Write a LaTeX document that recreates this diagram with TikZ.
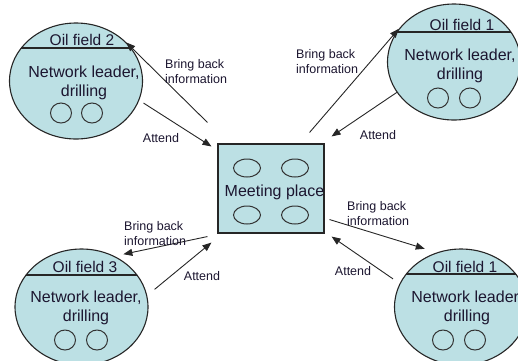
\documentclass[tikz,border=0pt]{standalone}
\usepackage{fontspec}
\setmainfont{Liberation Sans}
\usetikzlibrary{shapes.geometric,arrows.meta}
\definecolor{fieldblue}{RGB}{188,224,228}
\definecolor{ink}{RGB}{28,22,48}
\def\Lead{Network leader,\\drilling}

\begin{document}
\begin{tikzpicture}[x=1pt,y=-1pt,% one unit = one pixel, y runs downwards
		every node/.style={
			text=ink,
			inner sep=0pt
		},
		field/.style={ellipse,draw=black!85,line width=1.1pt,fill=fieldblue,
			minimum width=133pt,minimum height=116pt},
		title/.style={font=\fontsize{15.5}{18}\selectfont},
		body/.style={align=center,font=\fontsize{16}{19}\selectfont},
		seat/.style={ellipse,draw=black!80,line width=1pt,minimum width=21pt,minimum height=20pt},
		chair/.style={ellipse,draw=black!80,line width=1pt,minimum width=27pt,minimum height=18pt},
		note/.style={align=left,anchor=west,font=\fontsize{12.5}{15}\selectfont},
		flow/.style={draw=black!85,line width=0.9pt,-{Triangle[length=9pt,width=7pt]}}
	]
	\useasboundingbox (0,0) rectangle (518,360);

	% the four oil fields
	\node[field](of2) at (76,81){};
	\node[field](of1a) at (454,62){};
	\node[field](of3) at (81.5,307){};
	\node[field](of1b) at (461,307){};

	% name strip at the top of each field
	\draw[black!85,line width=1.1pt] (21.3,48) -- (130.7,48);
	\draw[black!85,line width=1.1pt] (397.1,32) -- (510.9,32);
	\draw[black!85,line width=1.1pt] (26,275) -- (137,275);
	\draw[black!85,line width=1.1pt] (406.3,274) -- (515.7,274);

	\node[title](t2) at (82,40){Oil field 2};
	\node[title](t1a) at (462,25){Oil field 1};
	\node[title](t3) at (85,267){Oil field 3};
	\node[title](t1b) at (465,267){Oil field 1};

	\node[body](b2) at (84,82.5){\Lead};
	\node[body](b1a) at (460,66){\Lead};
	\node[body](b3) at (86,308){\Lead};
	\node[body](b1b) at (467,308){\Lead};

	\node[seat](s2a) at (61,113){};   \node[seat](s2b) at (92,113){};
	\node[seat](s1a) at (438,98){};   \node[seat](s1b) at (470,98){};
	\node[seat](s3a) at (65,340){};   \node[seat](s3b) at (97,340){};
	\node[seat](s4a) at (443,340){};  \node[seat](s4b) at (475,340){};

	% meeting place in the middle
	\node[rectangle,draw=black!85,line width=1.1pt,fill=fieldblue,
		minimum width=106pt,minimum height=89pt](mp) at (271,188.5){};
	\node[chair](c1) at (247,168){};  \node[chair](c2) at (295,168){};
	\node[chair](c3) at (247,215){};  \node[chair](c4) at (295,215){};
	\node[body](mplabel) at (274.5,192){Meeting place};

	% arrows to and from the meeting
	\draw[flow,shorten >=-4pt] ([shift={(-10,-21)}]mp.north west) -- (of2.34);
	\draw[flow,shorten <=5pt] (of2.-17) -- ([shift={(-6,3)}]mp.north west);
	\draw[flow] ([shift={(-15,-11)}]mp.north east) -- (of1a.149);
	\draw[flow] (of1a.208) -- ([shift={(7,-7)}]mp.north east);
	\draw[flow,shorten >=9pt] ([shift={(-10,3)}]mp.south west) -- (of3.57);
	\draw[flow,shorten <=9.5pt] (of3.10) -- ([shift={(-6,9)}]mp.south west);
	\draw[flow,shorten >=12.5pt] ([shift={(5,-14)}]mp.south east) -- (of1b.114);
	\draw[flow,shorten <=8pt] (of1b.159) -- ([shift={(7,3)}]mp.south east);

	\node[note](n1) at (165,71.5){Bring back\\information};
	\node[note](n2) at (296,61.5){Bring back\\information};
	\node[note](n3) at (124,233.5){Bring back\\information};
	\node[note](n4) at (347,213.5){Bring back\\information};
	\node[note,anchor=center](a1) at (161,138){Attend};
	\node[note,anchor=center](a2) at (378,135){Attend};
	\node[note,anchor=center](a3) at (202,276){Attend};
	\node[note,anchor=center](a4) at (353,271){Attend};
\end{tikzpicture}
\end{document}
